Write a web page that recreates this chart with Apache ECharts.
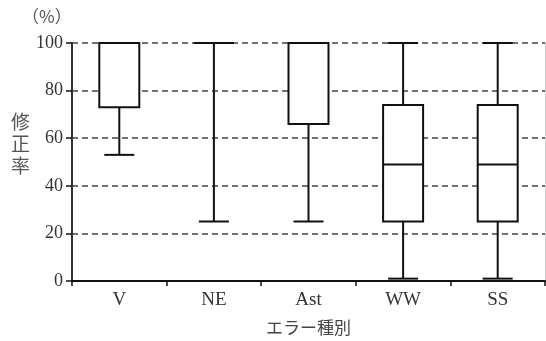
<!DOCTYPE html>
<html>
<head>
<meta charset="utf-8">
<script src="https://cdn.jsdelivr.net/npm/echarts@6/dist/echarts.min.js"></script>
<style>html,body{margin:0;padding:0;background:#fff}#c{width:546px;height:341px}</style>
</head>
<body>
<div id="c"></div>
<script>
const categories = ['V', 'NE', 'Ast', 'WW', 'SS'];
// [min, Q1, median, Q3, max]
const minVals = [53, 25, 25, 1, 1];
const q1Vals = [73, 100, 66, 25, 25];
const medianVals = [100, 100, 100, 49, 49];
const q3Vals = [100, 100, 100, 74, 74];
const maxVals = [100, 100, 100, 100, 100];
const yTicks = [0, 20, 40, 60, 80, 100];

const data = categories.map((c, i) => [i, minVals[i], q1Vals[i], medianVals[i], q3Vals[i], maxVals[i]]);

const chart = echarts.init(document.getElementById('c'), null, {renderer: 'canvas'});
const serif = '"Liberation Serif", "Times New Roman", serif';
const lineColor = '#111';

chart.setOption({
  animation: false,
  grid: {left: 72, right: 1, top: 43, bottom: 60},
  xAxis: {
    type: 'category',
    data: categories,
    boundaryGap: true,
    axisLine: {lineStyle: {color: lineColor, width: 2}},
    axisTick: {show: true, length: 5, lineStyle: {color: lineColor, width: 1.5}},
    axisLabel: {fontFamily: serif, fontSize: 19, color: '#333', margin: 10},
    name: 'エラー種別',
    nameLocation: 'middle',
    nameGap: 38,
    nameTextStyle: {fontFamily: '"Noto Sans CJK JP"', fontSize: 17, color: '#444'}
  },
  yAxis: [{
    type: 'value',
    min: 0, max: 100, interval: 20,
    axisLine: {show: true, lineStyle: {color: '#333', width: 2}},
    axisTick: {show: true, length: 6, lineStyle: {color: lineColor, width: 1.5}},
    axisLabel: {fontFamily: serif, fontSize: 18, color: '#333', margin: 9,
      formatter: v => yTicks.includes(v) ? String(v) : ''},
    splitLine: {show: true, lineStyle: {color: '#444', width: 1.5, type: [6, 4]}}
  }, {
    type: 'value', position: 'right',
    min: 0, max: 100, interval: 20,
    axisLine: {show: true, lineStyle: {color: '#ccc', width: 1}},
    axisTick: {show: false}, axisLabel: {show: false}, splitLine: {show: false}
  }],
  graphic: [
    {type: 'text', left: 22, top: 8, style: {text: '（%）', font: '17px "Noto Sans CJK JP"', fill: '#555'}},
    {type: 'text', left: 11, top: 111, style: {text: '修\n正\n率', font: '19px "Noto Sans CJK JP"', fill: '#555', lineHeight: 22}}
  ],
  series: [{
    type: 'custom',
    data: data,
    encode: {x: 0, y: [1, 2, 3, 4, 5]},
    renderItem: function (params, api) {
      const x = api.value(0);
      const pMin = api.coord([x, api.value(1)]);
      const pQ1 = api.coord([x, api.value(2)]);
      const pMed = api.coord([x, api.value(3)]);
      const pQ3 = api.coord([x, api.value(4)]);
      const pMax = api.coord([x, api.value(5)]);
      const boxHalf = 20, capHalf = 15;
      const cx = pMin[0];
      const st = {stroke: lineColor, lineWidth: 2, fill: null};
      const children = [];
      children.push({type: 'line', shape: {x1: cx, y1: pMin[1], x2: cx, y2: pQ1[1]}, style: st});
      children.push({type: 'line', shape: {x1: cx, y1: pQ3[1], x2: cx, y2: pMax[1]}, style: st});
      children.push({type: 'line', shape: {x1: cx - capHalf, y1: pMin[1], x2: cx + capHalf, y2: pMin[1]}, style: st});
      children.push({type: 'line', shape: {x1: cx - capHalf, y1: pMax[1], x2: cx + capHalf, y2: pMax[1]}, style: st});
      children.push({type: 'rect', shape: {x: cx - boxHalf, y: pQ3[1], width: boxHalf * 2, height: pQ1[1] - pQ3[1]}, style: {stroke: lineColor, lineWidth: 2, fill: '#fff'}});
      children.push({type: 'line', shape: {x1: cx - boxHalf, y1: pMed[1], x2: cx + boxHalf, y2: pMed[1]}, style: st});
      return {type: 'group', children: children};
    }
  }]
});
</script>
</body>
</html>
